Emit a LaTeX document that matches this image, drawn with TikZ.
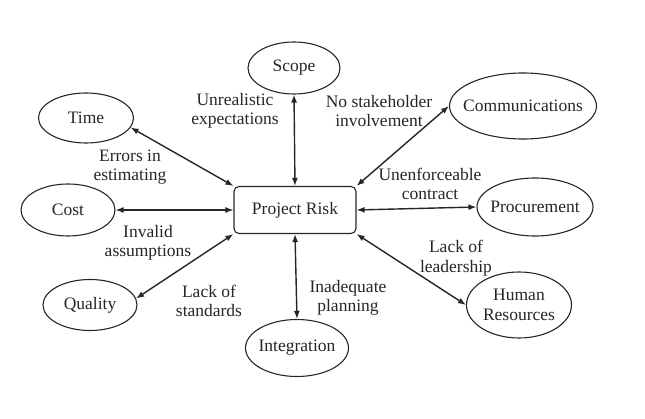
\documentclass[tikz,border=0pt]{standalone}
\usepackage{fontspec}
\setmainfont{Liberation Serif}
\usepackage{tikz}
\usetikzlibrary{shapes.geometric, arrows.meta}

\tikzset{
  area/.style={draw=black!85, ellipse, line width=1.1pt, inner xsep=-8pt, inner ysep=0pt,
    text=black!85, font=\fontsize{17.5}{19.5}\selectfont, align=center},
  riskbox/.style={draw=black!85, rectangle, rounded corners=5pt, line width=1.1pt,
    minimum width=122pt, minimum height=47pt, inner sep=0pt,
    text=black!85, font=\fontsize{17.5}{19.5}\selectfont},
  cause/.style={text=black!85, font=\fontsize{17.5}{19.5}\selectfont, align=center, inner sep=0pt},
  link/.style={{Latex[length=8pt,width=6pt]}-{Latex[length=8pt,width=6pt]}, line width=1.4pt, draw=black!85}
}

\begin{document}
\begin{tikzpicture}[x=1pt, y=-1pt]
  \useasboundingbox (0,0) rectangle (645,419);

  % Central node
  \node[riskbox] (risk) at (295,210) {Project Risk};

  % Knowledge areas
  \node[area, minimum width=92pt, minimum height=52pt] (scope) at (294,68) {Scope};
  \node[area, minimum width=95pt, minimum height=50pt] (time) at (86,118) {Time};
  \node[area, minimum width=94pt, minimum height=52pt] (cost) at (68,210) {Cost};
  \node[area, minimum width=94pt, minimum height=51pt] (quality) at (90,305) {Quality};
  \node[area, minimum width=103pt, minimum height=57pt] (integ) at (297,348) {Integration};
  \node[area, minimum width=105pt, minimum height=66pt] (hr) at (519,305) {Human\\Resources};
  \node[area, minimum width=116pt, minimum height=58pt] (proc) at (535,207) {Procurement};
  \node[area, minimum width=147pt, minimum height=66pt] (comm) at (523,106) {Communications};

  % Connectors
  \draw[link] (risk.north) -- (scope.south);
  \draw[link] (risk.north west) -- (time.-12);
  \draw[link] (risk.west) -- (cost.east);
  \draw[link] (risk.south west) -- (quality.8);
  \draw[link] (risk.south) -- (integ.north);
  \draw[link] (risk.south east) -- (hr.west);
  \draw[link] (risk.east) -- (proc.west);
  \draw[link] (risk.north east) -- (comm.west);

  % Causes
  \node[cause] (unreal) at (235,111) {Unrealistic\\expectations};
  \node[cause] (errors) at (130,167) {Errors in\\estimating};
  \node[cause] (invalid) at (148,243) {Invalid\\assumptions};
  \node[cause] (standards) at (209,301) {Lack of\\standards};
  \node[cause] (planning) at (348,298) {Inadequate\\planning};
  \node[cause] (leader) at (456,258) {Lack of\\leadership};
  \node[cause] (contract) at (430,184) {Unenforceable\\contract};
  \node[cause] (stake) at (379,111) {No stakeholder\\involvement};
\end{tikzpicture}
\end{document}
